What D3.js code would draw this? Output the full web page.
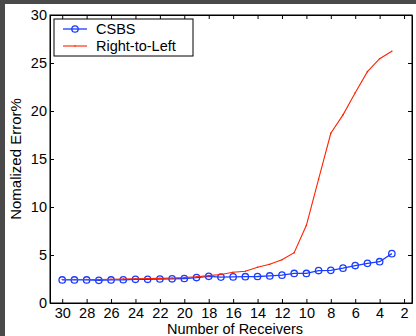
<!DOCTYPE html>
<html>
<head>
<meta charset="utf-8">
<script src="https://cdn.jsdelivr.net/npm/d3@7"></script>
<style>
  html, body { margin: 0; padding: 0; background: #4a4a4a; }
  svg { display: block; }
  text { font-family: "Liberation Sans", Arial, Helvetica, sans-serif; fill: #000; }
</style>
</head>
<body>
<svg id="chart" width="416" height="336"></svg>
<script>
const receivers = [30,29,28,27,26,25,24,23,22,21,20,19,18,17,16,15,14,13,12,11,10,9,8,7,6,5,4,3];
const csbs = [2.4,2.4,2.4,2.36,2.4,2.42,2.47,2.47,2.5,2.52,2.55,2.65,2.78,2.7,2.72,2.74,2.76,2.82,2.9,3.08,3.08,3.38,3.4,3.63,3.9,4.13,4.3,5.14];
const rightToLeft = [2.45,2.45,2.45,2.45,2.47,2.5,2.52,2.55,2.57,2.6,2.65,2.74,2.85,2.97,3.2,3.3,3.73,4.03,4.5,5.24,8.09,12.9,17.68,19.6,21.9,24.1,25.45,26.22];
const xTicks = [30,28,26,24,22,20,18,16,14,12,10,8,6,4,2];
const yTicks = [0,5,10,15,20,25,30];
const seriesNames = ["CSBS", "Right-to-Left"];

const svg = d3.select("#chart");
svg.append("rect").attr("x", 5).attr("y", 4).attr("width", 411).attr("height", 332).attr("fill", "#fff");

const L = 50, R = 412, T = 15, B = 303;
const x = d3.scaleLinear().domain([31, 1.35]).range([L, R]);
const y = d3.scaleLinear().domain([0, 30]).range([B, T]);

const fs = "14.5px";

// axes (MATLAB style box with inward ticks)
const gB = svg.append("g").attr("transform", `translate(0,${B})`)
  .call(d3.axisBottom(x).tickValues(xTicks).tickSize(-4).tickPadding(5).tickSizeOuter(0));
const gT = svg.append("g").attr("transform", `translate(0,${T})`)
  .call(d3.axisTop(x).tickValues(xTicks).tickSize(-4).tickFormat("").tickSizeOuter(0));
const gL = svg.append("g").attr("transform", `translate(${L},0)`)
  .call(d3.axisLeft(y).tickValues(yTicks).tickSize(-4).tickPadding(3).tickSizeOuter(0));
const gR = svg.append("g").attr("transform", `translate(${R},0)`)
  .call(d3.axisRight(y).tickValues(yTicks).tickSize(-4).tickFormat("").tickSizeOuter(0));
[gB, gT, gL, gR].forEach(g => {
  g.select(".domain").attr("stroke", "#000").attr("stroke-width", 1);
  g.selectAll(".tick line").attr("stroke", "#000").attr("stroke-width", 1);
  g.selectAll("text").style("font-size", fs).style("font-family", '"Liberation Sans", Arial, sans-serif').attr("fill", "#000");
});
svg.append("rect").attr("x", L).attr("y", T).attr("width", R - L).attr("height", B - T)
  .attr("fill", "none").attr("stroke", "#000").attr("stroke-width", 1);

// axis labels
svg.append("text").attr("x", (L + R) / 2 + 4).attr("y", 334).attr("text-anchor", "middle")
  .style("font-size", fs).text("Number of Receivers");
svg.append("text").attr("transform", `translate(21,${(T + B) / 2}) rotate(-90)`).attr("text-anchor", "middle")
  .style("font-size", "15px").text("Nomalized Error%");

// series
const blue = "#1a3cff", red = "#ff2200";
const line = d3.line().x((d, i) => x(receivers[i])).y(d => y(d));
svg.append("path").datum(csbs).attr("d", line).attr("fill", "none").attr("stroke", blue).attr("stroke-width", 1.3);
svg.selectAll("circle.csbs").data(csbs).join("circle").attr("class", "csbs")
  .attr("cx", (d, i) => x(receivers[i])).attr("cy", d => y(d)).attr("r", 3.2)
  .attr("fill", "none").attr("stroke", blue).attr("stroke-width", 1.3);
svg.append("path").datum(rightToLeft).attr("d", line).attr("fill", "none").attr("stroke", red).attr("stroke-width", 1.1);
svg.selectAll("circle.rtl").data(rightToLeft).join("circle").attr("class", "rtl")
  .attr("cx", (d, i) => x(receivers[i])).attr("cy", d => y(d)).attr("r", 0.8).attr("fill", red);

// legend
const lg = svg.append("g");
lg.append("rect").attr("x", 54).attr("y", 19).attr("width", 139).attr("height", 37)
  .attr("fill", "#fff").attr("stroke", "#000").attr("stroke-width", 1);
const ly = [29, 46];
lg.append("line").attr("x1", 63).attr("x2", 87).attr("y1", ly[0]).attr("y2", ly[0]).attr("stroke", blue).attr("stroke-width", 1.3);
lg.append("circle").attr("cx", 75).attr("cy", ly[0]).attr("r", 3.2).attr("fill", "none").attr("stroke", blue).attr("stroke-width", 1.3);
lg.append("line").attr("x1", 63).attr("x2", 87).attr("y1", ly[1]).attr("y2", ly[1]).attr("stroke", red).attr("stroke-width", 1.1);
lg.append("circle").attr("cx", 75).attr("cy", ly[1]).attr("r", 0.8).attr("fill", red);
seriesNames.forEach((n, i) => {
  lg.append("text").attr("x", 96).attr("y", ly[i] + 5).style("font-size", fs).text(n);
});
</script>
</body>
</html>
